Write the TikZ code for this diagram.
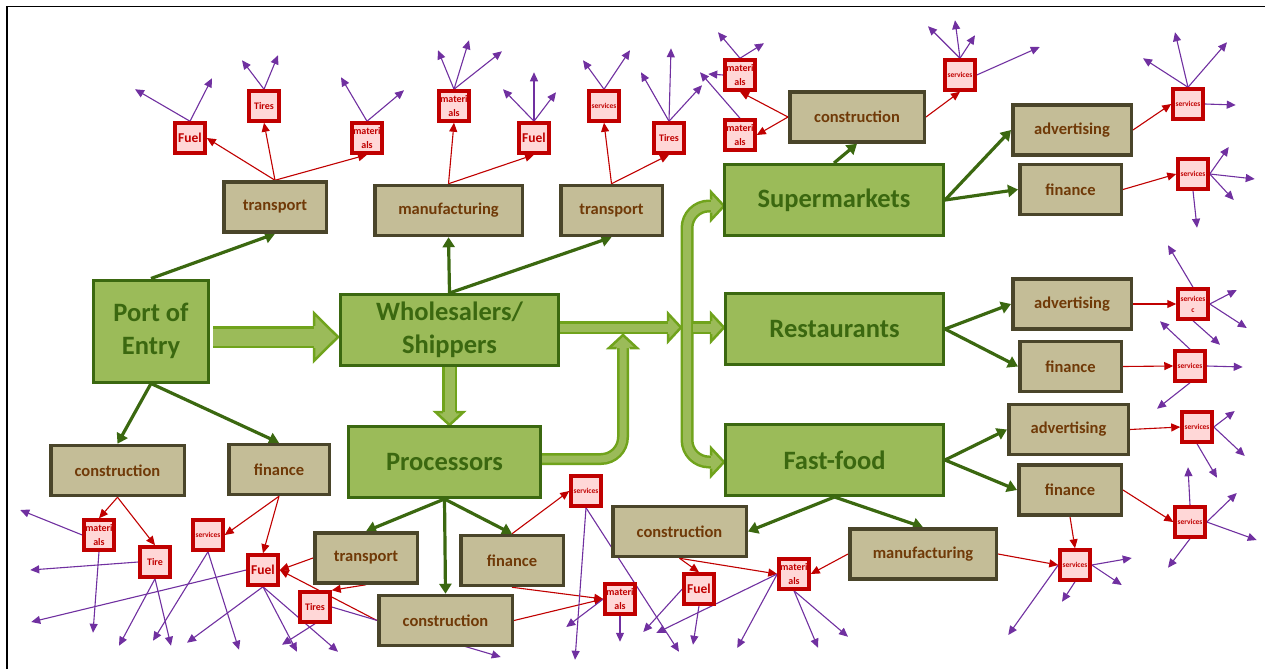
\documentclass[tikz,border=0pt]{standalone}
\usepackage{fontspec}
\setmainfont{Carlito}
\usepackage{xcolor}
\usetikzlibrary{arrows.meta,calc,backgrounds}

\definecolor{gfill}{RGB}{155,187,89}
\definecolor{gdark}{RGB}{59,104,16}
\definecolor{gbright}{RGB}{112,163,28}
\definecolor{tfill}{RGB}{196,189,151}
\definecolor{tdark}{RGB}{74,69,42}
\definecolor{tbrown}{RGB}{112,58,8}
\definecolor{rdark}{RGB}{192,0,0}
\definecolor{rfill}{RGB}{255,215,215}
\definecolor{purp}{RGB}{112,48,160}

\tikzset{
  hub/.style={draw=gdark, fill=gfill, line width=3, text=gdark, align=center, inner sep=0,
    minimum width=218, minimum height=71, font=\bfseries\fontsize{26.5}{33}\selectfont},
  sector/.style={draw=tdark, fill=tfill, line width=3.5, text=tbrown, inner sep=0,
    minimum height=50, font=\bfseries\fontsize{16.5}{20}\selectfont},
  spend/.style={draw=rdark, fill=rfill, line width=3.5, text=rdark, align=center, inner sep=0,
    minimum size=30, font=\bfseries\fontsize{10}{14}\selectfont},
  fuel/.style={spend, font=\bfseries\fontsize{13.5}{16}\selectfont},
  serv/.style={spend, font=\bfseries\fontsize{7.5}{11}\selectfont},
  garr/.style={draw=gdark, line width=3.2, -{Triangle[length=10pt,width=12pt]}},
  rarr/.style={draw=rdark, line width=1.1, -{Triangle[length=9pt,width=8pt]}},
  parr/.style={draw=purp, line width=1.1, -{Triangle[length=9pt,width=8pt]}},
  blk/.style={draw=gbright, line width=2.5, double=gfill, double distance=#1},
  bhead/.pic={
    \fill[gfill] (0,-14) -- (13,0) -- (0,14) -- cycle;
    \draw[gbright, line width=2.5, line join=miter] (0,-6.5) -- (0,-14) -- (13,0) -- (0,14) -- (0,6.5);
  }
}

\begin{document}
\begin{tikzpicture}[x=1pt,y=-1pt]
\useasboundingbox (0,0) rectangle (1265,669);
%frame
\draw[line width=1.3] (7,669) -- (7,6.5) -- (1265,6.5);

% supply chain stages
\node[hub, minimum width=115, minimum height=102] (port) at (151,331) {Port of\\Entry};
\node[hub] (whole) at (449.5,330) {Wholesalers/\\Shippers};
\node[hub, minimum width=192] (proc) at (444.5,462) {Processors};
\node[hub, minimum width=219] (superm) at (834,200) {Supermarkets};
\node[hub] (rest) at (834.5,329) {Restaurants};
\node[hub] (fastf) at (834.5,460) {Fast-food};

% sectors
\node[sector, minimum width=102.5] (trA) at (275,207) {transport};
\node[sector, minimum width=147.5] (manA) at (448.5,210.5) {manufacturing};
\node[sector, minimum width=101.5] (trB) at (611.5,210.5) {transport};
\node[sector, minimum width=134.5] (conA) at (857,117) {construction};
\node[sector, minimum width=118.5] (advS) at (1072,130) {advertising};
\node[sector, minimum width=101.5] (finS) at (1070.5,189.5) {finance};
\node[sector, minimum width=118.5] (advR) at (1072,304) {advertising};
\node[sector, minimum width=101.5] (finR) at (1070.5,366.5) {finance};
\node[sector, minimum width=119.5] (advF) at (1068.5,429.5) {advertising};
\node[sector, minimum width=102.5] (finF) at (1070,490) {finance};
\node[sector, minimum width=133.5] (conL) at (117.5,470.5) {construction};
\node[sector, minimum width=100.5] (finL) at (279,469.5) {finance};
\node[sector, minimum width=102.5] (trP) at (366,558) {transport};
\node[sector, minimum width=102.5] (finP) at (512,560.5) {finance};
\node[sector, minimum width=133.5] (conP) at (445.5,620.5) {construction};
\node[sector, minimum width=133.5] (conF) at (679.5,531.5) {construction};
\node[sector, minimum width=146.5] (manF) at (923,554) {manufacturing};

% spending
\node[fuel] (fuA) at (190,138) {Fuel};
\node[spend] (tiA) at (264,106) {Tires};
\node[spend] (maA) at (367,138) {materi\\als};
\node[spend] (maB) at (454,106) {materi\\als};
\node[fuel] (fuB) at (534,138) {Fuel};
\node[serv] (seA) at (604,106) {services};
\node[spend] (tiB) at (669,138) {Tires};
\node[spend] (maC) at (740,75) {materi\\als};
\node[spend] (maD) at (740,135) {materi\\als};
\node[serv] (seB) at (960,75) {services};
\node[serv] (seC) at (1188,104) {services};
\node[serv] (seD) at (1193,174) {services};
\node[serv] (seE) at (1193,304) {services\\c};
\node[serv] (seF) at (1190,366) {services};
\node[serv] (seG) at (1197,427) {services};
\node[serv] (seH) at (1190,522) {services};
\node[serv] (seI) at (1075,565) {services};
\node[spend] (maE) at (99,535) {materi\\als};
\node[spend] (tiC) at (155,562) {Tire};
\node[serv] (seJ) at (208,535) {services};
\node[fuel] (fuC) at (263,570) {Fuel};
\node[spend] (tiD) at (315,607) {Tires};
\node[serv] (seK) at (586,491) {services};
\node[spend] (maF) at (620,599) {materi\\als};
\node[fuel] (fuD) at (699,589) {Fuel};
\node[spend] (maG) at (794,574) {materi\\als};

\begin{scope}[on background layer]
% product flow
\coordinate (pw) at ($(port.east)+(3,6)$);
\draw[blk=17] (pw) -- ++(101,0) coordinate (ph);
\pic[xscale=1.85, yscale=1.7] at (ph) {bhead};
\draw[blk=10] (whole.south) -- ++(0,45) coordinate (wp);
\pic[rotate=-90] at (wp) {bhead};
\draw[blk=8] ($(whole.east)+(0,-2.5)$) -- ++(108,0) coordinate (wb);
\pic at (wb) {bhead};
\coordinate (bt) at ($(superm.west)+(-12,6)$);
\draw[blk=8, rounded corners=22] (bt) -- ++(-24,0) -- ++(0,256) -- ++(24,0) coordinate (bb);
\pic at (bt) {bhead};
\pic at (bb) {bhead};
\draw[blk=8] ($(rest.west)+(-31,-1.5)$) -- ++(18,0) coordinate (br);
\pic at (br) {bhead};
\draw[blk=7, rounded corners=22] ($(proc.east)+(0,-3)$) -- ++(81,0) -- ++(0,-111) coordinate (pu);
\pic[rotate=90] at (pu) {bhead};

% sectors supplied
\foreach \s/\t in {port.north/trA.south, port.south/conL.north, port.south/finL.north,
  whole.north/manA.south, whole.north/trB.south,
  proc.south/trP.north, proc.south/conP.north, proc.south/finP.north,
  superm.north/conA.south, superm.east/advS.west, superm.east/finS.west,
  rest.east/advR.west, rest.east/finR.west,
  fastf.east/advF.west, fastf.east/finF.west,
  fastf.south/conF.east, fastf.south/manF.north}
  \draw[garr] (\s) -- (\t);

% second round
\foreach \s/\t in {trA.north/fuA.east, trA.north/tiA.south, trA.north/maA.south,
  manA.north/maB.south, manA.north/fuB.south,
  trB.north/seA.south, trB.north/tiB.south,
  conA.west/maC.south, conA.west/maD.east, conA.east/seB.south,
  advS.east/seC.west, finS.east/seD.west, advR.east/seE.west, finR.east/seF.west,
  advF.east/seG.west, finF.east/seH.west, finF.south/seI.north, manF.east/seI.west,
  conL.south/maE.north, conL.south/tiC.north, finL.south/seJ.east, finL.south/fuC.north,
  trP.west/fuC.east, conP.west/fuC.east, trP.south/tiD.north east,
  finP.north/seK.west, finP.south/maF.west, conP.east/maF.west,
  conF.south/maG.west, conF.south/fuD.north, manF.west/maG.east}
  \draw[rarr] (\s) -- (\t);

% third round
\foreach \n/\a/\dx/\dy in {fuA/north/-55/-32, fuA/north/22/-43,
  tiA/north/-22/-29, tiA/north/14/-34,
  maA/north/-26/-44, maA/north/37/-31,
  maB/north/-16/-39, maB/north/15/-49, maB/north/48/-38,
  fuB/north/-31/-32, fuB/north/0/-49, fuB/north/22/-29,
  seA/north/-21/-29, seA/north/26/-39,
  tiB/north/-28/-49, tiB/north/2/-73, tiB/north/33/-36,
  maC/north/-22/-26, maC/north/24/-15, maC/west/-15/-1,
  maD/north/-40/-46,
  seB/north/-32/-32, seB/north/-5/-38, seB/north/15/-23, seB/east/63/-28,
  seC/north/-45/-29, seC/north/-13/-55, seC/north/39/-45, seC/east/31/1,
  seD/east/19/-27, seD/east/45/5, seD/east/24/26, seD/south/4/37,
  seE/north/-25/-42, seE/east/27/-14, seE/east/37/24, seE/south/27/24,
  seF/north/-30/-28, seF/east/36/1, seF/south/-33/26,
  seG/east/21/-16, seG/east/31/29, seG/south/20/34,
  seH/north/-2/-38, seH/east/30/-29, seH/east/50/18, seH/south/-22/29,
  seI/east/40/-7, seI/east/30/20, seI/south/-13/20, seI/west/-50/70,
  maE/west/-62/-25, maE/south/-6/81,
  tiC/west/-108/8, tiC/south/-36/67, tiC/south/16/67,
  seJ/south/-55/89, seJ/south/31/98,
  fuC/west/-215/52, fuC/south/-76/56, fuC/south/34/65, fuC/south/75/65,
  tiD/south/-33/21, tiD/east/169/50,
  seK/south/-11/152, seK/south/93/144,
  maF/west/-37/28, maF/south/0/26,
  fuD/west/-39/43, fuD/south/-6/39,
  maG/west/-121/59, maG/west/-40/74, maG/south/24/57, maG/south/54/46}
  \draw[parr] (\n.\a) -- ++(\dx,\dy);
\end{scope}

\end{tikzpicture}
\end{document}
